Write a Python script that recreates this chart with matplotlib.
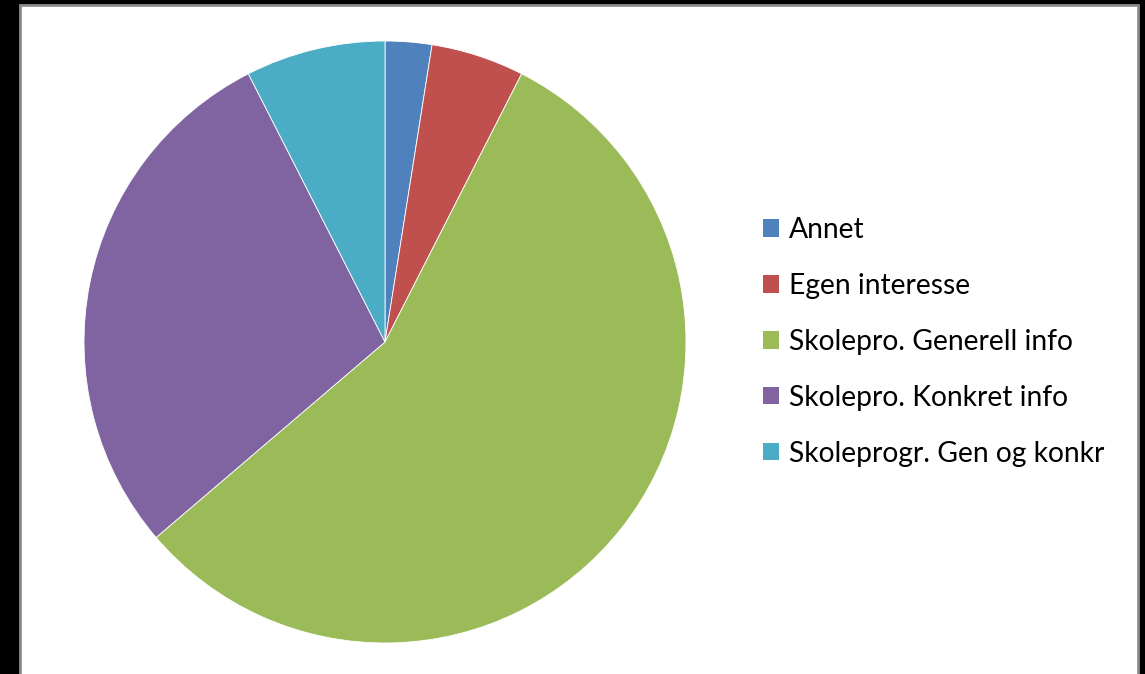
import matplotlib
matplotlib.use("Agg")
import matplotlib.pyplot as plt
from matplotlib.patches import Rectangle, Patch

categories = ["Annet", "Egen interesse", "Skolepro. Generell info",
              "Skolepro. Konkret info", "Skoleprogr. Gen og konkr"]
values = [2, 4, 45, 23, 6]
colors = ["#4F81BD", "#C0504D", "#9BBB59", "#8064A2", "#4BACC6"]

W, H = 1145, 674
fig = plt.figure(figsize=(W / 100, H / 100), dpi=100)
fig.patch.set_facecolor("black")
# white chart area with gray border
fig.patches.append(Rectangle((20 / W, -5 / H), (1138 - 20) / W, (H) / H,
                             transform=fig.transFigure, facecolor="white",
                             edgecolor="#8c8c8c", linewidth=2, zorder=-5))

cx, cy, r = 385, 342, 301
ax = fig.add_axes([(cx - r) / W, (H - cy - r) / H, 2 * r / W, 2 * r / H])
ax.set_zorder(2)
ax.patch.set_visible(False)
ax.pie(values, colors=colors, startangle=90, counterclock=False,
       wedgeprops=dict(linewidth=0.6, edgecolor="white"))
ax.set_xlim(-1, 1)
ax.set_ylim(-1, 1)
ax.set_aspect("auto")
ax.axis("off")

handles = [Patch(facecolor=c, edgecolor="none") for c in colors]
leg = fig.legend(handles, categories, loc="upper left",
                 bbox_to_anchor=(763 / W, 1 - 217 / H), frameon=False,
                 prop=dict(family="Lato", size=20.3), handlelength=0.58,
                 handleheight=0.58, handletextpad=0.35, labelspacing=1.06,
                 borderpad=0, borderaxespad=0)
leg.set_zorder(3)

fig.savefig("out.png", dpi=100, facecolor="black")
